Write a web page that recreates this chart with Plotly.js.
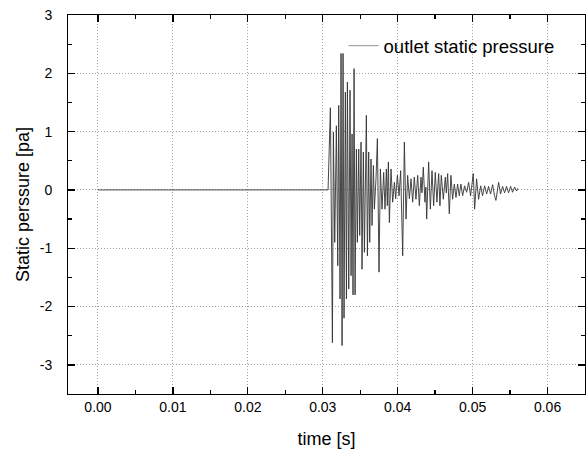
<!DOCTYPE html>
<html>
<head>
<meta charset="utf-8">
<script src="https://cdn.plot.ly/plotly-3.0.1.min.js"></script>
<style>html,body{margin:0;padding:0;background:#fff;}#chart{width:587px;height:452px;}</style>
</head>
<body>
<div id="chart"></div>
<script>
// time [s]
const time = [0.0000, 0.03071, 0.03102, 0.03129, 0.03142, 0.03160, 0.03182, 0.03200, 0.03213, 0.03231,
  0.03244, 0.03258, 0.03271, 0.03284, 0.03302, 0.03316, 0.03329, 0.03347, 0.03364, 0.03378,
  0.03391, 0.03404, 0.03418, 0.03431, 0.03449, 0.03462, 0.03480, 0.03493, 0.03511, 0.03524,
  0.03542, 0.03556, 0.03582, 0.03596, 0.03613, 0.03627, 0.03644, 0.03658, 0.03676, 0.03689,
  0.03711, 0.03729, 0.03751, 0.03769, 0.03791, 0.03813, 0.03831, 0.03849, 0.03862, 0.03876,
  0.03889, 0.03911, 0.03933, 0.03956, 0.03973, 0.03996, 0.04018, 0.04040, 0.04067, 0.04089,
  0.04111, 0.04133, 0.04156, 0.04178, 0.04200, 0.04222, 0.04244, 0.04267, 0.04289, 0.04311,
  0.04324, 0.04342, 0.04364, 0.04376, 0.04387, 0.04413, 0.04436, 0.04458, 0.04480, 0.04502,
  0.04524, 0.04547, 0.04564, 0.04582, 0.04609, 0.04636, 0.04649, 0.04667, 0.04689, 0.04711,
  0.04733, 0.04756, 0.04778, 0.04800, 0.04822, 0.04844, 0.04867, 0.04893, 0.04920, 0.04947,
  0.04973, 0.05009, 0.05027, 0.05053, 0.05080, 0.05107, 0.05133, 0.05160, 0.05187, 0.05213,
  0.05240, 0.05267, 0.05293, 0.05311, 0.05347, 0.05373, 0.05400, 0.05427, 0.05453, 0.05480,
  0.05507, 0.05533, 0.05560, 0.05587, 0.05604];
// outlet static pressure [pa]
const pressure = [0, 0, 1.41, -2.62, 0.99, -0.90, 1.10, -1.30, 1.45, -1.87,
  2.34, -2.67, 2.34, -2.20, 1.68, -1.87, 1.85, -1.70, 1.71, -1.47,
  0.96, -1.80, 2.08, -1.80, 0.70, -0.90, 0.70, -0.78, 0.82, -1.36,
  0.65, -1.07, 1.28, -1.13, 0.65, -0.90, 0.53, -0.61, 0.42, -0.33,
  0.20, 0.88, -1.41, 0.36, -0.33, 0.30, -0.33, 0.36, -0.27, 0.48,
  -0.56, 0.36, -0.21, 0.13, -0.15, 0.25, -0.10, 0.33, -1.13, 0.82,
  -0.50, 0.25, -0.15, 0.19, -0.21, 0.22, -0.16, 0.25, -0.27, 0.22,
  -0.05, 0.39, -0.21, 0.05, -0.50, 0.48, -0.33, 0.33, -0.27, 0.30,
  -0.21, 0.28, -0.27, 0.25, -0.16, 0.22, -0.05, 0.28, -0.41, 0.25,
  -0.16, 0.10, -0.13, 0.10, -0.10, 0.10, -0.10, 0.07, -0.04, 0.13,
  -0.10, 0.28, -0.33, 0.19, -0.16, 0.07, -0.10, 0.07, -0.07, 0.06,
  -0.07, 0.09, -0.10, -0.18, 0.13, -0.07, 0.06, -0.05, 0.06, -0.05,
  0.06, -0.04, 0.05, -0.02, 0.03];
const xTicks = [0, 0.01, 0.02, 0.03, 0.04, 0.05, 0.06];
const xTickText = ['0.00', '0.01', '0.02', '0.03', '0.04', '0.05', '0.06'];
const yTicks = [-3, -2, -1, 0, 1, 2, 3];
const yTickText = ['-3', '-2', '-1', '0', '1', '2', '3'];
const seriesName = 'outlet static pressure';

const FONT = 'Liberation Sans, Arial, sans-serif';
const PAD = '\u00a0\u00a0\u00a0';
const traces = [
  {x: time, y: pressure, type: 'scatter', mode: 'lines', name: seriesName, showlegend: false,
   line: {color: '#333333', width: 0.9}},
  {x: [null], y: [null], type: 'scatter', mode: 'lines', name: seriesName, showlegend: true,
   line: {color: '#a8a8a8', width: 1.2}}
];
const axisCommon = {
  showline: true, linecolor: '#000', linewidth: 1.3, mirror: 'ticks',
  ticks: 'inside', ticklen: 7, tickwidth: 1.3, tickcolor: '#000',
  showgrid: true, gridcolor: '#a0a0a0', griddash: '1px,2px', gridwidth: 1,
  zeroline: false, tickfont: {family: FONT, size: 14, color: '#000'}
};
const layout = {
  width: 587, height: 452,
  margin: {l: 68, r: 2, t: 15, b: 58},
  paper_bgcolor: '#fff', plot_bgcolor: '#fff',
  font: {family: FONT, color: '#000'},
  xaxis: Object.assign({}, axisCommon, {
    automargin: false,
    range: [-0.004, 0.065], tickmode: 'array', tickvals: xTicks, ticktext: xTickText,
    minor: {ticks: 'inside', ticklen: 4, tickwidth: 1.3, tickcolor: '#000', dtick: 0.005, tick0: 0, showgrid: false},
    title: {text: 'time [s]', font: {family: FONT, size: 18, color: '#000'}, standoff: 18}
  }),
  yaxis: Object.assign({}, axisCommon, {
    automargin: true,
    range: [-3.5, 3], tickmode: 'array', tickvals: yTicks, ticktext: yTickText.map(s => s + PAD),
    minor: {ticks: 'inside', ticklen: 4, tickwidth: 1.3, tickcolor: '#000', dtick: 0.5, tick0: 0, showgrid: false},
    title: {text: 'Static perssure [pa]', font: {family: FONT, size: 18, color: '#000'}, standoff: 5}
  }),
  showlegend: true,
  legend: {x: 0.533, y: 0.968, xanchor: 'left', yanchor: 'top', bgcolor: 'rgba(0,0,0,0)',
    font: {family: FONT, size: 18.5, color: '#000'}, borderwidth: 0}
};
Plotly.newPlot('chart', traces, layout, {staticPlot: true, displayModeBar: false});
</script>
</body>
</html>
